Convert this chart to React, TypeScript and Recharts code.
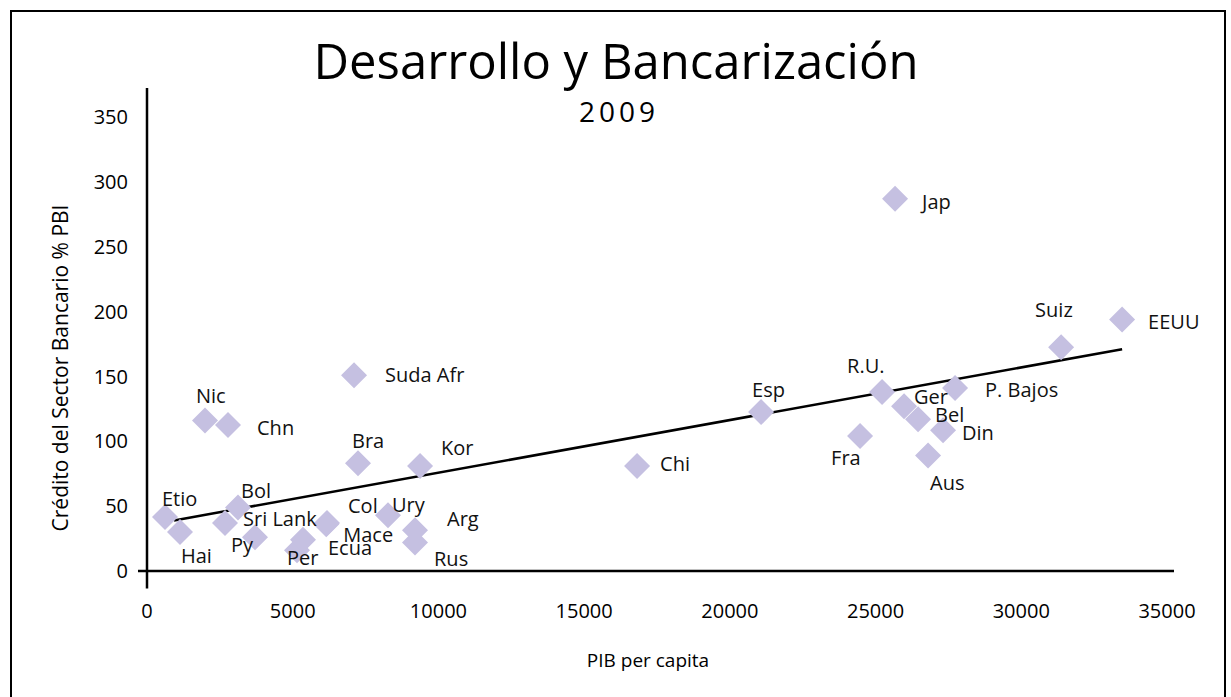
import React from "react";
import { ScatterChart, Scatter, XAxis, YAxis, ReferenceLine } from "recharts";

// Datos 2009: PIB per capita vs crédito bancario (% PBI)
const countries = [
  "Etio", "Hai", "Nic", "Chn", "Bol", "Sri Lank", "Py", "Per", "Ecua", "Col",
  "Mace", "Ury", "Arg", "Rus", "Bra", "Kor", "Suda Afr", "Chi", "Esp", "Jap",
  "R.U.", "Ger", "Bel", "Din", "Fra", "Aus", "P. Bajos", "Suiz", "EEUU",
];
const pibPerCapita = [
  618, 1132, 1990, 2780, 3123, 2677, 3706, 5148, 5353, 6177,
  6150, 8270, 9197, 9197, 7241, 9369, 7104, 16815, 21071, 25669,
  25223, 25978, 26458, 27316, 24468, 26801, 27728, 31366, 33459,
];
const creditoBancario = [
  41.6, 30, 116, 112.5, 49, 37, 26, 16, 24, 37,
  36, 43, 31.5, 22, 83, 81, 151, 81, 122.5, 287,
  138, 127, 117, 108.6, 104, 89, 141, 172.5, 194,
];
const xTicks = [0, 5000, 10000, 15000, 20000, 25000, 30000, 35000];
const yTicks = [0, 50, 100, 150, 200, 250, 300, 350];
// tendencia (extremos)
const trendX = [927, 33459];
const trendY = [39, 171];

// desplazamiento de cada etiqueta respecto a su punto (px)
const LABEL_OFFSET: Record<string, [number, number]> = {
  Etio: [-3, -19], Hai: [1, 23], Nic: [-9, -25], Chn: [29, 2], Bol: [3, -17],
  "Sri Lank": [18, -5], Py: [-24, 7], Per: [-10, 7], Ecua: [25, 8], Col: [21, -18],
  Mace: [17, 10], Ury: [4, -11], Arg: [32, -12], Rus: [19, 16], Bra: [-6, -23],
  Kor: [21, -18], "Suda Afr": [31, -1], Chi: [23, -2], Esp: [-9, -23], Jap: [27, 3],
  "R.U.": [-35, -27], Ger: [10, -10], Bel: [17, -5], Din: [19, 2], Fra: [-29, 21],
  Aus: [2, 27], "P. Bajos": [30, 1], Suiz: [-26, -38], EEUU: [26, 2],
};

const data = countries.map((name, i) => ({ name, x: pibPerCapita[i], y: creditoBancario[i] }));

const FONT = "'Open Sans', sans-serif";
const MARK = "#c5c0e1";

const Diamond = (props: any) => {
  const { cx, cy } = props;
  const r = 13;
  return <polygon points={`${cx},${cy - r} ${cx + r},${cy} ${cx},${cy + r} ${cx - r},${cy}`} fill={MARK} />;
};

const NameLabel = (props: any) => {
  const { cx, cy, payload } = props;
  const [dx, dy] = LABEL_OFFSET[payload.name] || [15, 0];
  return (
    <text x={cx + dx} y={cy + dy} dominantBaseline="central" fontSize={20} fontFamily={FONT} fill="#111">
      {payload.name}
    </text>
  );
};

export default function App() {
  return (
    <div style={{ position: "absolute", left: 0, top: 0, width: 1231, height: 697, overflow: "hidden", background: "#fff" }}>
      <div style={{ position: "absolute", left: 10, top: 10, width: 1216, height: 720, border: "2px solid #000", boxSizing: "border-box" }} />
      <div style={{ position: "absolute", left: 0, width: 1232, top: 28, textAlign: "center", fontFamily: FONT, fontSize: 49, lineHeight: "64px", color: "#000" }}>
        Desarrollo y Bancarización
      </div>
      <div style={{ position: "absolute", left: 0, width: 1238, top: 93, textAlign: "center", fontFamily: FONT, fontSize: 28, letterSpacing: 4, lineHeight: "36px", color: "#000" }}>
        2009
      </div>
      <div style={{ position: "absolute", left: 0, width: 1296, top: 646, textAlign: "center", fontFamily: FONT, fontSize: 19, lineHeight: "28px", color: "#000" }}>
        PIB per capita
      </div>
      <div style={{ position: "absolute", left: 60, top: 368, width: 0, height: 0 }}>
        <div style={{ position: "absolute", left: -300, top: -15, width: 600, textAlign: "center", transform: "rotate(-90deg)", fontFamily: FONT, fontSize: 21, lineHeight: "30px", color: "#000", whiteSpace: "nowrap" }}>
          Crédito del Sector Bancario % PBI
        </div>
      </div>
      <div style={{ position: "absolute", left: 0, top: 0 }}>
        <ScatterChart width={1231} height={697} margin={{ top: 88, right: 57, bottom: 86, left: 87 }}>
          <XAxis
            type="number"
            dataKey="x"
            domain={[0, 35240]}
            ticks={xTicks}
            axisLine={false}
            tickLine={false}
            tickSize={0}
            tickMargin={33}
            height={40}
            tick={{ fontSize: 20, fontFamily: FONT, fill: "#000" }}
          />
          <YAxis
            type="number"
            dataKey="y"
            domain={[0, 372.4]}
            ticks={yTicks}
            axisLine={false}
            tickLine={false}
            tickSize={0}
            tickMargin={19}
            width={60}
            tick={{ fontSize: 20, fontFamily: FONT, fill: "#000" }}
          />
          <ReferenceLine segment={[{ x: -309, y: 0 }, { x: 35240, y: 0 }]} stroke="#000" strokeWidth={2.5} ifOverflow="visible" />
          <ReferenceLine segment={[{ x: 0, y: -13.5 }, { x: 0, y: 372.4 }]} stroke="#000" strokeWidth={2.5} ifOverflow="visible" />
          <Scatter data={data} shape={Diamond} isAnimationActive={false} />
          <ReferenceLine
            segment={[{ x: trendX[0], y: trendY[0] }, { x: trendX[1], y: trendY[1] }]}
            stroke="#000"
            strokeWidth={2.5}
            ifOverflow="visible"
          />
          <Scatter data={data} shape={NameLabel} isAnimationActive={false} />
        </ScatterChart>
      </div>
    </div>
  );
}
